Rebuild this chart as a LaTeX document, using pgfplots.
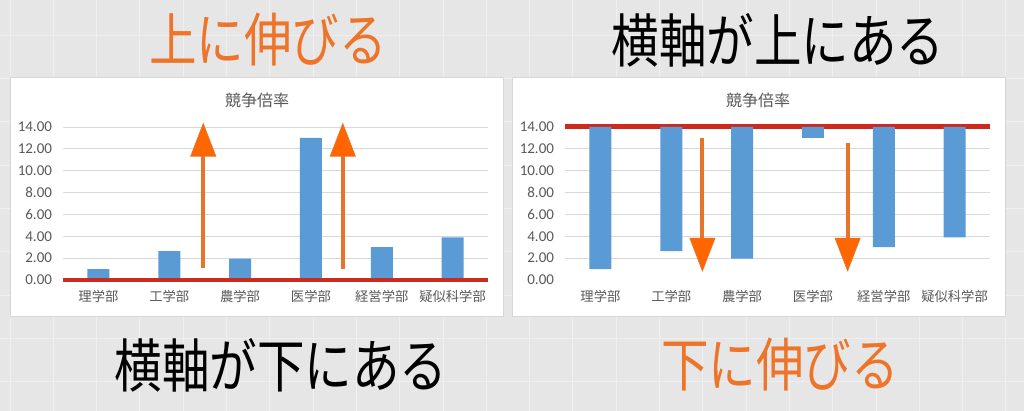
\documentclass[border=0pt]{standalone}
\usepackage{pgfplots}
\pgfplotsset{compat=1.18}
\usepackage{graphicx}
\usepackage{fontspec}
\usetikzlibrary{arrows.meta}
\setmainfont{Noto Sans CJK JP}
\newfontfamily\numfont{Carlito}

\definecolor{bgcol}{HTML}{E6E6E6}
\definecolor{bglines}{HTML}{EFEFEF}
\definecolor{panelborder}{HTML}{D6D6D6}
\definecolor{barblue}{HTML}{5B9BD5}
\definecolor{gridgray}{HTML}{D9D9D9}
\definecolor{labelgray}{HTML}{595959}
\definecolor{axisred}{HTML}{CC2A1E}
\definecolor{titleorange}{HTML}{ED7428}
\definecolor{arrowline}{HTML}{E8732A}
\definecolor{arrowfill}{HTML}{FF6600}

\tikzset{
  orangearrow/.style={line width=4pt, arrowline,
    -{Triangle[length=34pt, width=26pt, fill=arrowfill, line width=0.8pt]}},
}
\pgfplotsset{
  ratechart/.style={
    scale only axis,
    width=425pt, height=153pt,
    xmin=-0.5, xmax=5.5, ymin=0, ymax=14,
    xtick={0,1,2,3,4,5},
    xticklabels={理学部,工学部,農学部,医学部,経営学部,疑似科学部},
    axis line style={draw=none},
    major tick length=0pt,
    tick style={draw=none},
    ymajorgrids,
    grid style={gridgray, line width=0.9pt},
    yticklabel style={font=\numfont\fontsize{15}{15}\selectfont, text=labelgray,
      xshift=-7.5pt,
      /pgf/number format/.cd, fixed, fixed zerofill, precision=2, assume math mode=true},
    xticklabel style={font=\fontsize{13.3}{13.3}\selectfont, text=labelgray, yshift=-7pt},
    bar width=22pt,
    clip=false,
  },
}

\begin{document}
\begin{tikzpicture}[x=1pt, y=1pt]
\useasboundingbox (0,0) rectangle (1024,411);
\fill[bgcol] (0,0) rectangle (1024,411);
\foreach \k in {0,...,23} \draw[bglines, line width=1pt] ({10+43.3*\k},0) -- ({10+43.3*\k},411);
\foreach \k in {0,...,9} \draw[bglines, line width=1pt] (0,{411-35.3-43.3*\k}) -- (1024,{411-35.3-43.3*\k});

% panels
\filldraw[fill=white, draw=panelborder, line width=1pt] (10,94) rectangle (503,333);
\filldraw[fill=white, draw=panelborder, line width=1pt] (512,94) rectangle (1005,333);

% chart titles
\node[text=labelgray, font=\fontsize{16}{16}\selectfont] at (257,311) {競争倍率};
\node[text=labelgray, font=\fontsize{16}{16}\selectfont] at (758,311) {競争倍率};

% left chart: axis at the bottom
\begin{axis}[ratechart, at={(63pt,131pt)}, anchor=south west, ybar,
  ytick={0,2,...,14}]
\addplot[fill=barblue, draw=none] coordinates {(0,1.0) (1,2.65) (2,1.95) (3,13.0) (4,3.0) (5,3.9)};
\draw[axisred, line width=4.5pt] (rel axis cs:0,0) -- (rel axis cs:1,0);
\draw[orangearrow] (axis cs:1.48,1.1) -- (axis cs:1.48,14.4);
\draw[orangearrow] (axis cs:3.45,1.0) -- (axis cs:3.45,14.4);
\end{axis}

% right chart: axis crosses at 14, bars hang down
\begin{axis}[ratechart, at={(565pt,131pt)}, anchor=south west, ybar stacked,
  ytick={2,4,...,14}, extra y ticks={0}, extra y tick style={grid=none}]
\addplot[fill=none, draw=none] coordinates {(0,1.0) (1,2.65) (2,1.95) (3,13.0) (4,3.0) (5,3.9)};
\addplot[fill=barblue, draw=none] coordinates {(0,13.0) (1,11.35) (2,12.05) (3,1.0) (4,11.0) (5,10.1)};
\draw[axisred, line width=5pt] (rel axis cs:0,1) -- (rel axis cs:1,1);
\draw[orangearrow] (axis cs:1.44,13.0) -- (axis cs:1.44,0.75);
\draw[orangearrow] (axis cs:3.49,12.5) -- (axis cs:3.49,0.75);
\end{axis}

% big captions
\node[text=titleorange, font=\fontsize{58}{58}\selectfont] at (268,371) {\scalebox{0.82}[1]{上に伸びる}};
\node[text=black, font=\fontsize{58}{58}\selectfont] at (778,371) {\scalebox{0.82}[1]{横軸が上にある}};
\node[text=black, font=\fontsize{58}{58}\selectfont] at (281,46) {\scalebox{0.82}[1]{横軸が下にある}};
\node[text=titleorange, font=\fontsize{58}{58}\selectfont] at (780,46) {\scalebox{0.82}[1]{下に伸びる}};
\end{tikzpicture}
\end{document}
